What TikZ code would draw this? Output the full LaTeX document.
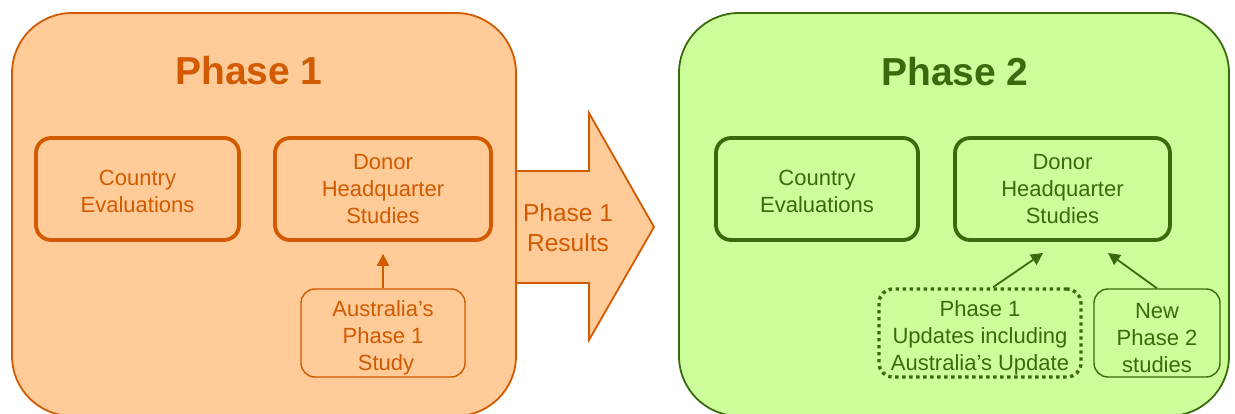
\documentclass[tikz,border=0pt]{standalone}
\usepackage{fontspec}
\setmainfont{Liberation Sans}
\usetikzlibrary{arrows.meta,calc}
\definecolor{orfill}{HTML}{FFCC99}
\definecolor{ordark}{HTML}{D25A00}
\definecolor{grfill}{HTML}{CCFF99}
\definecolor{grdark}{HTML}{3A6A0E}
\newcommand{\dnshift}[1]{\rule{0pt}{#1}}
\tikzset{
  phasebox/.style={line width=1.8pt, rounded corners=60pt},
  title/.style={font=\fontsize{39}{44}\selectfont\bfseries, anchor=base},
  bigbox/.style={draw, line width=3.8pt, rounded corners=15pt, align=center,
     font=\fontsize{22}{27}\selectfont, inner sep=0pt},
  smallbox/.style={draw, line width=1.4pt, rounded corners=14pt, align=center,
     font=\fontsize{22}{27}\selectfont, inner sep=0pt},
  dotbox/.style={draw, line width=3.4pt, dash pattern=on 3.4pt off 3.6pt, rounded corners=14pt, align=center,
     font=\fontsize{22}{27}\selectfont, inner sep=0pt},
  link/.style={line width=1.8pt, -{Triangle[length=12pt,width=12pt]}},
}
\begin{document}
\begin{tikzpicture}[x=1pt,y=-1pt]
\useasboundingbox (0,0) rectangle (1235,414);
% Phase 1 container
\fill[orfill] (12,13) [rounded corners=60pt] rectangle (516,416);
% big arrow
\fill[orfill] (514,171) -- (589,171) -- (589,113) -- (654,227) -- (589,340) -- (589,283) -- (514,283) -- cycle;
\draw[ordark, line width=1.8pt, line join=miter] (515,171) -- (589,171) -- (589,113) -- (654,227) -- (589,340) -- (589,283) -- (515,283);
\draw[ordark, phasebox] (12,13) rectangle (516,416);
\node[title, text=ordark] (t1) at (249,85) {Phase 1};
\node[ordark, align=center, font=\fontsize{24.5}{30}\selectfont] (res) at (568,228) {Phase 1\\Results};
\node[bigbox, ordark, minimum width=203pt, minimum height=102pt] (ce1) at (137.5,189) {\dnshift{20pt}Country\\Evaluations};
\node[bigbox, ordark, minimum width=216pt, minimum height=102pt] (dhq1) at (383,189) {Donor\\Headquarter\\Studies};
\node[smallbox, ordark, minimum width=164pt, minimum height=88pt] (aus) at (383,333) {\dnshift{26pt}Australia’s\\Phase 1\\\ Study};
\coordinate (a1) at ($(dhq1.south)+(0,12)$);
\draw[link, ordark] (aus.north) -- (a1);
% Phase 2 container
\draw[grdark, phasebox, fill=grfill] (679,13) rectangle (1229,416);
\node[title, text=grdark] (t2) at (955,86) {Phase 2};
\node[bigbox, grdark, minimum width=202pt, minimum height=102pt] (ce2) at (817,189) {\dnshift{20pt}Country\\Evaluations};
\node[bigbox, grdark, minimum width=215pt, minimum height=102pt] (dhq2) at (1062.5,189) {Donor\\Headquarter\\Studies};
\node[dotbox, grdark, minimum width=202pt, minimum height=88pt] (upd) at (980,333) {\dnshift{26pt}Phase 1\\Updates including\\Australia’s Update};
\node[smallbox, grdark, minimum width=126pt, minimum height=88pt] (new) at (1157,333) {\dnshift{26pt}New\\Phase 2\\studies};
\coordinate (a2) at (1043,253);
\coordinate (a3) at (1108,253);
\draw[link, grdark] ($(upd.north)+(13,0)$) -- (a2);
\draw[link, grdark] (new.north) -- (a3);
\end{tikzpicture}
\end{document}
